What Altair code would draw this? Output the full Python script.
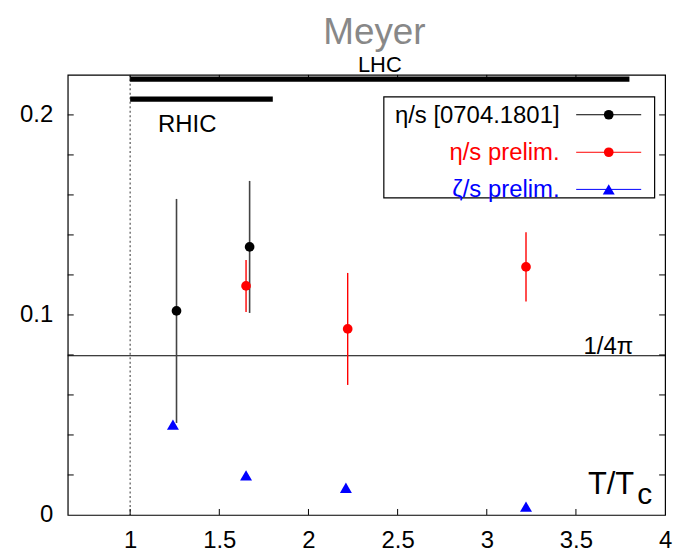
import altair as alt
import pandas as pd

FONT = "Liberation Sans"

# ---- data ----
eta_T = [1.26, 1.67]
eta_v = [0.102, 0.134]
eta_e = [0.056, 0.033]

etap_T = [1.65, 2.22, 3.22]
etap_v = [0.1145, 0.093, 0.124]
etap_e = [0.013, 0.028, 0.0173]

zeta_T = [1.24, 1.65, 2.21, 3.22]
zeta_v = [0.0452, 0.0198, 0.0136, 0.0042]

bar_names = ["LHC", "RHIC"]
bar_lo = [1.0, 1.0]
bar_hi = [3.8, 1.8]
bar_y = [0.2179, 0.2079]
bar_label_x = [2.4, 1.32]
bar_label_y = [0.2215, 0.1916]
bar_label_size = [22, 24]

kss_value = [0.0796]          # 1/4pi
kss_label = ["1/4π"]
tc_line = [1.0]

x_ticks = [1, 1.5, 2, 2.5, 3, 3.5, 4]
x_minor = [1, 1.5, 2, 2.5, 3, 3.5]
y_labels = [0, 0.1, 0.2]
y_minor = [0.02, 0.04, 0.06, 0.08, 0.10, 0.12, 0.14, 0.16, 0.18, 0.20]

legend_labels = ["η/s [0704.1801]", "η/s prelim.", "ζ/s prelim."]
legend_colors = ["black", "#ff0000", "#0000ff"]
legend_shapes = ["circle", "circle", "triangle-up"]

W, H = 600, 442

xs = alt.Scale(domain=[0.65, 4], nice=False, zero=False)
ys = alt.Scale(domain=[0, 0.22], nice=False, zero=False)
xaxis = alt.Axis(values=x_ticks, format="~g", ticks=False, tickSize=0, domain=False,
                 grid=False, labelFontSize=24, labelFont=FONT, labelColor="black",
                 labelPadding=14, title=None, labelFlush=False)
yaxis = alt.Axis(values=y_labels, format="~g", ticks=False, tickSize=0, domain=False,
                 grid=False, labelFontSize=24, labelFont=FONT, labelColor="black",
                 labelPadding=15, title=None, labelFlush=False)


def X(f):
    return alt.X(f, type="quantitative", scale=xs, axis=xaxis)


def Y(f):
    return alt.Y(f, type="quantitative", scale=ys, axis=yaxis)


eta = pd.DataFrame({"T": eta_T, "v": eta_v, "e": eta_e})
eta["lo"] = eta["v"] - eta["e"]
eta["hi"] = eta["v"] + eta["e"]
etap = pd.DataFrame({"T": etap_T, "v": etap_v, "e": etap_e})
etap["lo"] = etap["v"] - etap["e"]
etap["hi"] = etap["v"] + etap["e"]
zeta = pd.DataFrame({"T": zeta_T, "v": zeta_v})
bars = pd.DataFrame({"name": bar_names, "lo": bar_lo, "hi": bar_hi, "y": bar_y,
                     "lx": bar_label_x, "ly": bar_label_y, "fs": bar_label_size})
kss = pd.DataFrame({"v": kss_value, "label": kss_label})
tc = pd.DataFrame({"T": tc_line})
xt = pd.DataFrame({"T": x_minor})
yt = pd.DataFrame({"v": y_minor})

layers = []

# 1/4pi line
layers.append(alt.Chart(kss).mark_rule(color="black", strokeWidth=1).encode(y=Y("v")))
layers.append(alt.Chart(kss).mark_text(font=FONT, fontSize=24, align="right",
                                        baseline="alphabetic", dy=-2, color="black")
              .encode(x=alt.value(568), y=Y("v"), text="label:N"))
# Tc dotted line
layers.append(alt.Chart(tc).mark_rule(color="#555555", strokeWidth=1.2, strokeDash=[2, 2.5])
              .encode(x=X("T")))
# inward ticks
tk = dict(color="black", strokeWidth=1)
layers.append(alt.Chart(yt).mark_rule(**tk).encode(y=Y("v"), x=alt.value(0), x2=alt.value(6)))
layers.append(alt.Chart(yt).mark_rule(**tk).encode(y=Y("v"), x=alt.value(W), x2=alt.value(W - 6)))
layers.append(alt.Chart(xt).mark_rule(**tk).encode(x=X("T"), y=alt.value(H), y2=alt.value(H - 6)))
layers.append(alt.Chart(xt).mark_rule(**tk).encode(x=X("T"), y=alt.value(0), y2=alt.value(6)))

# LHC / RHIC bars
layers.append(alt.Chart(bars).mark_rule(color="black", strokeWidth=5.5, strokeCap="butt")
              .encode(x=X("lo"), x2="hi", y=Y("y")))
layers.append(alt.Chart(bars).mark_text(font=FONT, align="center",
                                         baseline="alphabetic", color="black")
              .encode(x=X("lx"), y=Y("ly"), text="name:N",
                      size=alt.Size("fs:Q", scale=None, legend=None)))

# error bars
layers.append(alt.Chart(eta).mark_rule(color="#444444", strokeWidth=1.6)
              .encode(x=X("T"), y=Y("lo"), y2="hi"))
layers.append(alt.Chart(etap).mark_rule(color="#ff0000", strokeWidth=1.4)
              .encode(x=X("T"), y=Y("lo"), y2="hi"))
# points
layers.append(alt.Chart(eta).mark_point(filled=True, shape="circle", size=95, color="black", opacity=1)
              .encode(x=X("T"), y=Y("v")))
layers.append(alt.Chart(etap).mark_point(filled=True, shape="circle", size=95, color="#ff0000", opacity=1)
              .encode(x=X("T"), y=Y("v")))
layers.append(alt.Chart(zeta).mark_point(filled=True, shape="triangle-up", size=144, color="#0000ff",
                                          opacity=1)
              .encode(x=X("T"), y=Y("v")))

# legend (manual, gnuplot style)
one = pd.DataFrame({"a": [0]})
layers.append(alt.Chart(one).mark_rect(fill="white", stroke="black", strokeWidth=1.2)
              .encode(x=alt.value(317.5), x2=alt.value(589.5), y=alt.value(22), y2=alt.value(123.5)))
row_y = [40, 77.7, 115]
for lab, col, shp, ry in zip(legend_labels, legend_colors, legend_shapes, row_y):
    d = pd.DataFrame({"label": [lab]})
    layers.append(alt.Chart(d).mark_text(font=FONT, fontSize=24, align="right", baseline="middle",
                                         color=col)
                  .encode(x=alt.value(494), y=alt.value(ry + 1), text="label:N"))
    layers.append(alt.Chart(d).mark_rule(color=col, strokeWidth=1)
                  .encode(x=alt.value(510.7), x2=alt.value(576), y=alt.value(ry)))
    layers.append(alt.Chart(d).mark_point(filled=True, shape=shp, opacity=1, color=col,
                                          size=95 if shp == "circle" else 144)
                  .encode(x=alt.value(543.4), y=alt.value(ry)))

# axis label T/T_c
layers.append(alt.Chart(one).mark_text(font=FONT, fontSize=31, align="left", baseline="alphabetic",
                                       color="black", text="T/T")
              .encode(x=alt.value(522.5), y=alt.value(421)))
layers.append(alt.Chart(one).mark_text(font=FONT, fontSize=30, align="left", baseline="alphabetic",
                                       color="black", text="c")
              .encode(x=alt.value(572), y=alt.value(431)))
# title
layers.append(alt.Chart(one).mark_text(font=FONT, fontSize=37, align="center", baseline="alphabetic",
                                       color="#888888", text="Meyer")
              .encode(x=alt.value(308), y=alt.value(-31.5)))

chart = alt.layer(*layers).properties(
    width=W, height=H,
    autosize=alt.AutoSizeParams(type="none"),
    padding={"left": 60, "top": 66, "right": 20, "bottom": 38},
    background="white",
).configure_view(stroke="black", strokeWidth=1.2)

chart.save("out.html", embed_options={"renderer": "svg", "actions": False})
